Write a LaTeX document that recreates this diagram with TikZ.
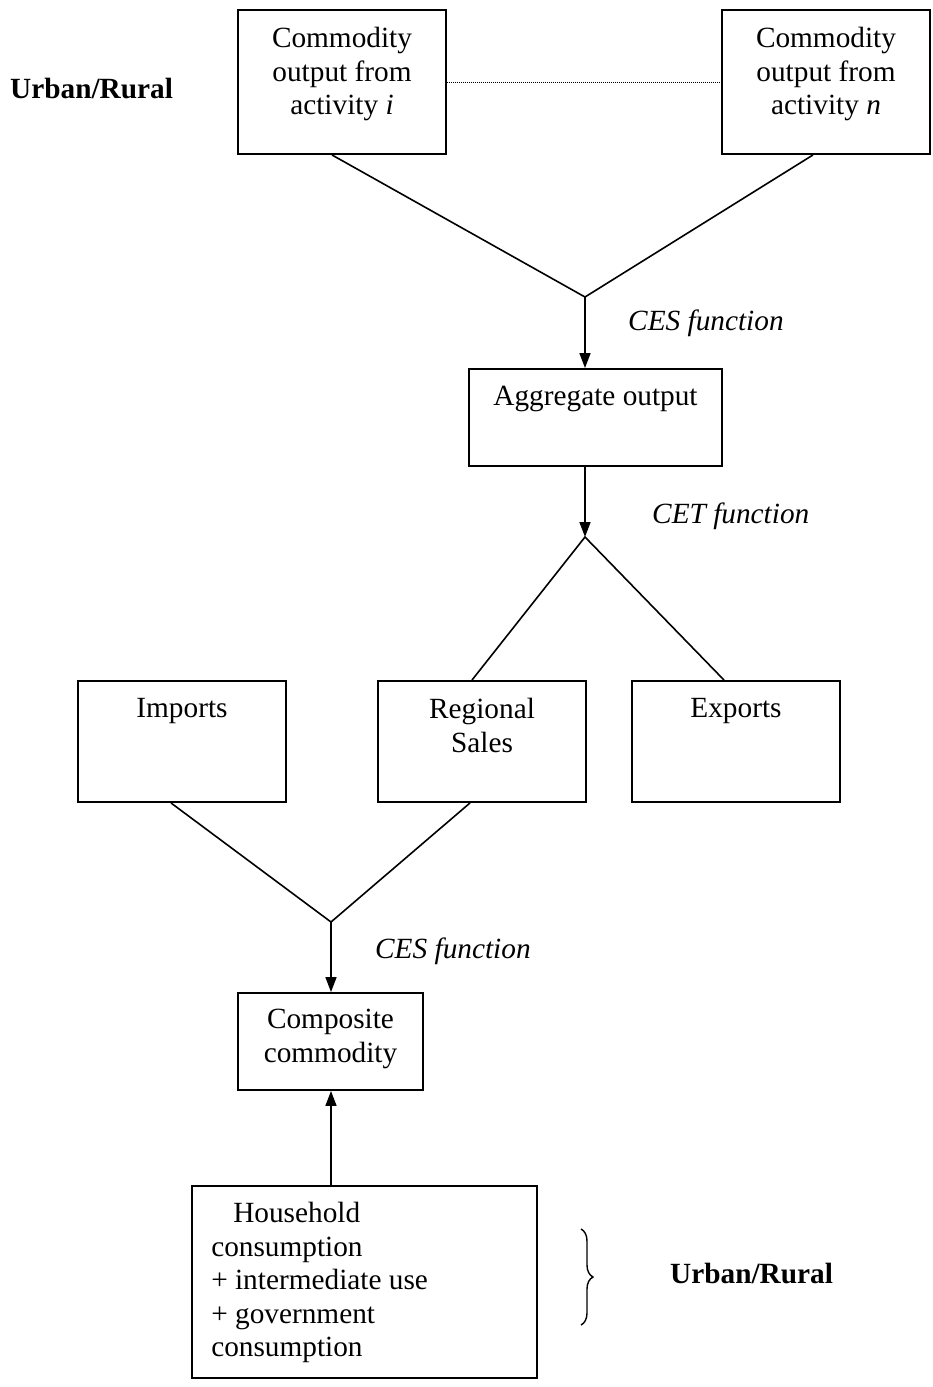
\documentclass[tikz,border=0pt]{standalone}
\usepackage{fontspec}
\setmainfont{Liberation Serif}
\usetikzlibrary{arrows.meta,decorations.pathreplacing}
\begin{document}
\begin{tikzpicture}[x=1pt,y=-1pt,
  box/.style={draw,line width=1.9pt,rectangle,inner sep=0pt},
  boxtext/.style={anchor=north,align=center,inner sep=0pt,font=\fontsize{29.3}{33.5}\selectfont},
  lbl/.style={anchor=base west,inner sep=0pt,font=\fontsize{29.3}{33.5}\selectfont\itshape},
  bold/.style={anchor=base west,inner sep=0pt,font=\fontsize{29.3}{33.5}\selectfont\bfseries},
  conn/.style={line width=1.6pt},
  arr/.style={line width=1.6pt,-{Triangle[length=15pt,width=11pt]}}]
\useasboundingbox (0,0) rectangle (932,1387);
% boxes
\node[box,minimum width=208pt,minimum height=144pt] (ci) at (342,82) {};
\node[box,minimum width=208pt,minimum height=144pt] (cn) at (826,82) {};
\node[box,minimum width=253pt,minimum height=97pt] (agg) at (595.5,417.5) {};
\node[box,minimum width=208pt,minimum height=121pt] (imp) at (182,741.5) {};
\node[box,minimum width=208pt,minimum height=121pt] (reg) at (482,741.5) {};
\node[box,minimum width=208pt,minimum height=121pt] (exp) at (736,741.5) {};
\node[box,minimum width=185pt,minimum height=97pt] (comp) at (330.5,1041.5) {};
\node[box,minimum width=345pt,minimum height=192pt] (hh) at (364.5,1282) {};
% box texts
\node[boxtext] (cit) at ([yshift=-18pt]ci.north) {Commodity\\output from\\activity \textit{i}};
\node[boxtext] (cnt) at ([yshift=-18pt]cn.north) {Commodity\\output from\\activity \textit{n}};
\node[boxtext] (aggt) at ([yshift=-18pt]agg.north) {Aggregate output};
\node[boxtext] (impt) at ([yshift=-18pt]imp.north) {Imports};
\node[boxtext] (regt) at ([yshift=-18pt]reg.north) {Regional\\Sales};
\node[boxtext] (expt) at ([yshift=-18pt]exp.north) {Exports};
\node[boxtext] (compt) at ([yshift=-17pt]comp.north) {Composite\\commodity};
\node[boxtext,anchor=north west,align=left] (hht) at ([xshift=20pt,yshift=-17pt]hh.north west)
  {\hspace*{22pt}Household\\consumption\\+ intermediate use\\+ government\\consumption};
% junctions
\coordinate (j1) at (585,297);
\coordinate (j2) at (585,537);
\coordinate (j3) at (331,922);
% connectors
\draw[line width=1pt,dash pattern=on 1pt off 1pt] (ci.east) -- (cn.west);
\draw[conn] ([xshift=-10pt]ci.south) -- (j1) -- ([xshift=-13pt]cn.south);
\draw[arr] (j1) -- (j1 |- agg.north);
\draw[arr] (agg.south -| j2) -- (j2);
\draw[conn] ([xshift=-10pt]reg.north) -- (j2) -- ([xshift=-12pt]exp.north);
\draw[conn] ([xshift=-11pt]imp.south) -- (j3) -- ([xshift=-12pt]reg.south);
\draw[arr] (j3) -- (j3 |- comp.north);
\draw[arr] (hh.north -| j3) -- (j3 |- comp.south);
% labels
\node[lbl] (ces1) at (628,330) {CES function};
\node[lbl] (cet) at (652,523) {CET function};
\node[lbl] (ces2) at (375,958) {CES function};
\node[bold] (ur1) at (10,98) {Urban/Rural};
\node[bold] (ur2) at (670,1283) {Urban/Rural};
% brace
\coordinate (bt) at (581,1229);
\coordinate (bb) at (581,1325);
\draw[line width=1.4pt,decorate,decoration={brace,amplitude=12pt}] (bt) -- (bb);
\end{tikzpicture}
\end{document}
